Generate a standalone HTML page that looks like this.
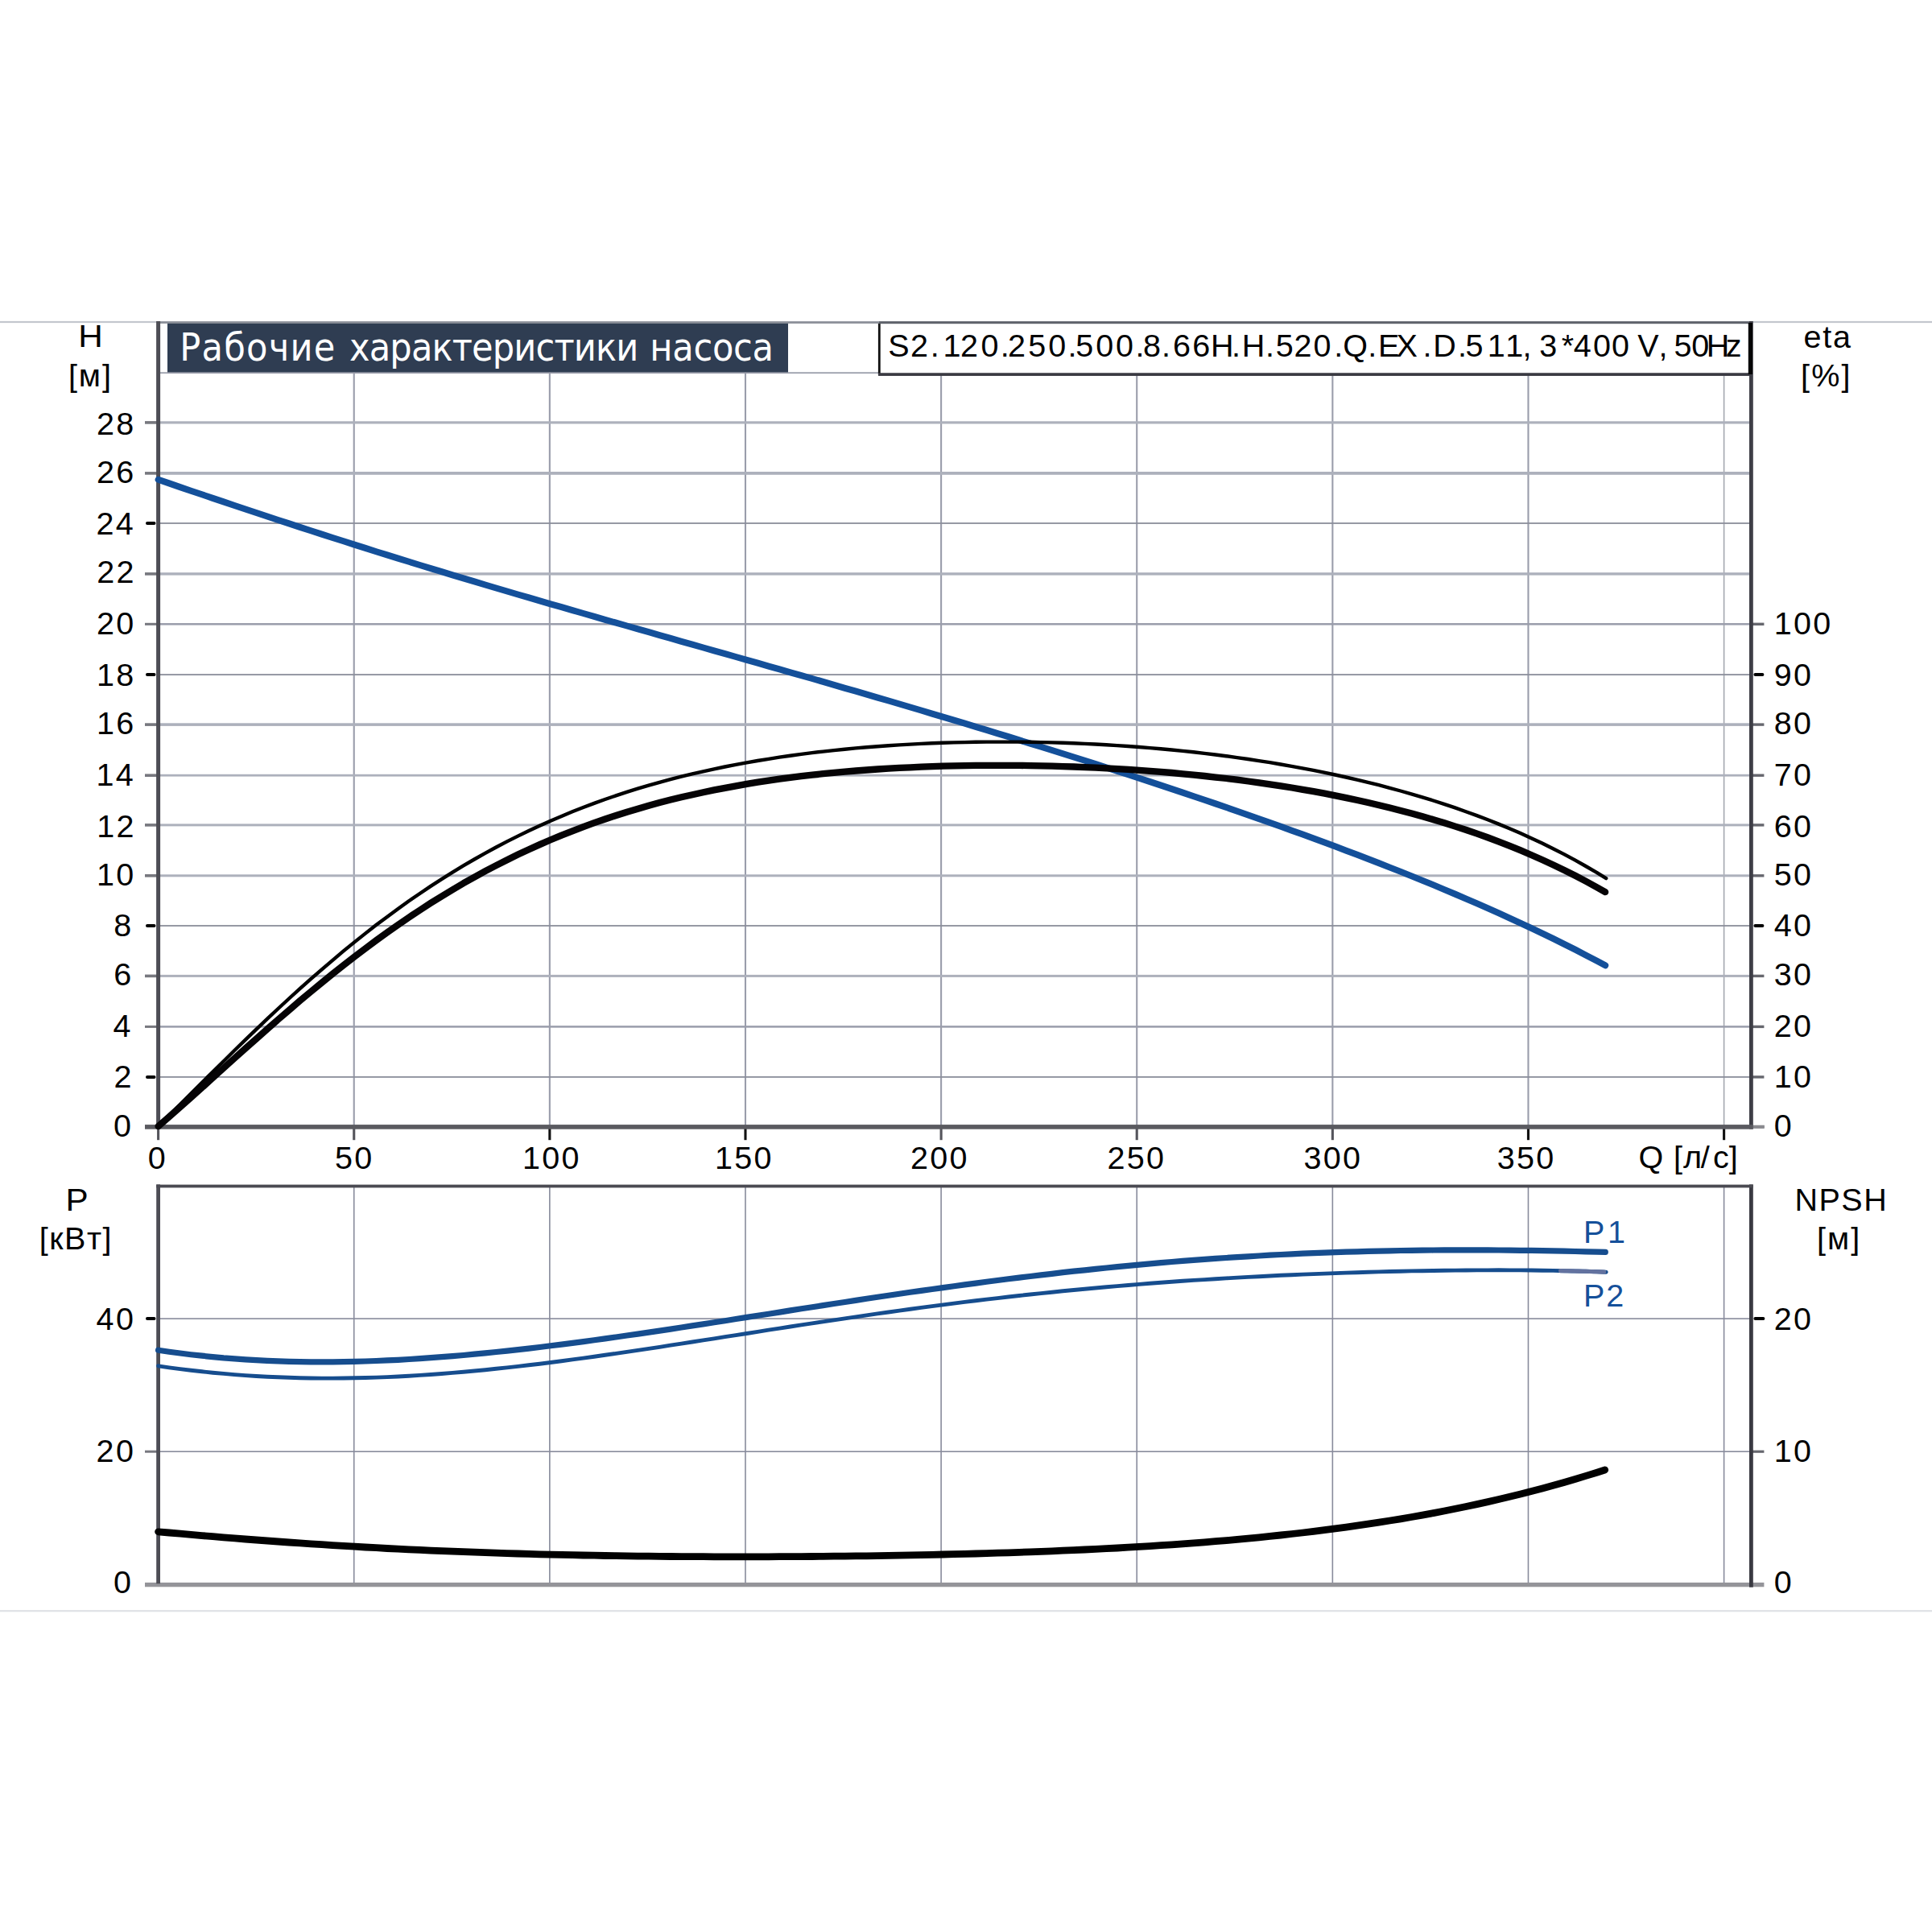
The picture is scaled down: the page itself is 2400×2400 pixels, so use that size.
<!DOCTYPE html>
<html lang="ru"><head><meta charset="utf-8"><title>Рабочие характеристики насоса</title>
<style>html,body{margin:0;padding:0;background:#fff}body{width:2400px;height:2400px;overflow:hidden}svg{display:block}text{font-family:"Liberation Sans",Arial,Helvetica,sans-serif;font-size:39.5px;font-kerning:none;fill:#000}.t{font-family:"DejaVu Sans Condensed","DejaVu Sans","Liberation Sans",sans-serif;font-stretch:condensed;font-size:48px;font-kerning:none;fill:#fff}.b{fill:#15509a}</style></head><body>
<svg width="2400" height="2400" viewBox="0 0 2400 2400">
<rect width="2400" height="2400" fill="#fff"/>
<rect x="0.0" y="398.90" width="2400.0" height="2.2" fill="#c3c6cd"/>
<rect x="0.0" y="2000.10" width="2400.0" height="2.2" fill="#dfe2e6"/>
<g>
<rect x="438.68" y="464.0" width="2.1" height="935.9" fill="#9a9dab"/>
<rect x="681.80" y="464.0" width="2.1" height="935.9" fill="#9a9dab"/>
<rect x="924.93" y="464.0" width="2.1" height="935.9" fill="#9a9dab"/>
<rect x="1168.05" y="464.0" width="2.1" height="935.9" fill="#9a9dab"/>
<rect x="1411.17" y="464.0" width="2.1" height="935.9" fill="#9a9dab"/>
<rect x="1654.30" y="464.0" width="2.1" height="935.9" fill="#9a9dab"/>
<rect x="1897.42" y="464.0" width="2.1" height="935.9" fill="#9a9dab"/>
<rect x="2140.80" y="464.0" width="1.6" height="935.9" fill="#a4a7af"/>
<rect x="196.6" y="1337.00" width="1978.8" height="1.8" fill="#8b8e9b"/>
<rect x="196.6" y="1274.15" width="1978.8" height="2.5" fill="#9a9dab"/>
<rect x="196.6" y="1210.90" width="1978.8" height="3.0" fill="#adb1bc"/>
<rect x="196.6" y="1149.10" width="1978.8" height="1.8" fill="#8b8e9b"/>
<rect x="196.6" y="1086.30" width="1978.8" height="3.0" fill="#adb1bc"/>
<rect x="196.6" y="1023.40" width="1978.8" height="3.0" fill="#adb1bc"/>
<rect x="196.6" y="961.80" width="1978.8" height="2.8" fill="#adb1bc"/>
<rect x="196.6" y="898.30" width="1978.8" height="3.6" fill="#adb1bc"/>
<rect x="196.6" y="837.20" width="1978.8" height="1.8" fill="#8b8e9b"/>
<rect x="196.6" y="774.05" width="1978.8" height="2.5" fill="#9a9dab"/>
<rect x="196.6" y="711.20" width="1978.8" height="3.4" fill="#adb1bc"/>
<rect x="196.6" y="649.10" width="1978.8" height="1.8" fill="#8b8e9b"/>
<rect x="196.6" y="586.00" width="1978.8" height="3.8" fill="#adb1bc"/>
<rect x="196.6" y="523.30" width="1978.8" height="3.2" fill="#adb1bc"/>
</g>
<g>
<rect x="438.93" y="1473.2" width="1.6" height="495.1" fill="#888b9c"/>
<rect x="682.05" y="1473.2" width="1.6" height="495.1" fill="#888b9c"/>
<rect x="925.18" y="1473.2" width="1.6" height="495.1" fill="#888b9c"/>
<rect x="1168.30" y="1473.2" width="1.6" height="495.1" fill="#888b9c"/>
<rect x="1411.42" y="1473.2" width="1.6" height="495.1" fill="#888b9c"/>
<rect x="1654.55" y="1473.2" width="1.6" height="495.1" fill="#888b9c"/>
<rect x="1897.67" y="1473.2" width="1.6" height="495.1" fill="#888b9c"/>
<rect x="2140.80" y="1473.2" width="1.6" height="495.1" fill="#888b9c"/>
<rect x="196.6" y="1802.40" width="1978.8" height="1.6" fill="#888b9c"/>
<rect x="196.6" y="1637.30" width="1978.8" height="1.6" fill="#888b9c"/>
</g>
<g>
<rect x="180.0" y="1398.40" width="16.6" height="3.0" fill="#77787f"/>
<rect x="181.0" y="1335.9" width="12.5" height="4" rx="2" fill="#000"/>
<rect x="180.0" y="1273.90" width="16.6" height="3.0" fill="#77787f"/>
<rect x="180.0" y="1210.60" width="16.6" height="3.6" fill="#77787f"/>
<rect x="181.0" y="1148.0" width="12.5" height="4" rx="2" fill="#000"/>
<rect x="180.0" y="1086.00" width="16.6" height="3.6" fill="#77787f"/>
<rect x="180.0" y="1023.10" width="16.6" height="3.6" fill="#77787f"/>
<rect x="180.0" y="961.40" width="16.6" height="3.6" fill="#77787f"/>
<rect x="180.0" y="898.30" width="16.6" height="3.6" fill="#77787f"/>
<rect x="181.0" y="836.1" width="12.5" height="4" rx="2" fill="#000"/>
<rect x="180.0" y="773.80" width="16.6" height="3.0" fill="#77787f"/>
<rect x="180.0" y="711.10" width="16.6" height="3.6" fill="#77787f"/>
<rect x="181.0" y="648.0" width="12.5" height="4" rx="2" fill="#000"/>
<rect x="180.0" y="586.10" width="16.6" height="3.6" fill="#77787f"/>
<rect x="180.0" y="523.10" width="16.6" height="3.6" fill="#77787f"/>
<rect x="2175.4" y="1398.20" width="16.0" height="3.4" fill="#66676e"/>
<rect x="2175.4" y="1336.20" width="16.0" height="3.4" fill="#66676e"/>
<rect x="2175.4" y="1273.70" width="16.0" height="3.4" fill="#66676e"/>
<rect x="2175.4" y="1210.70" width="16.0" height="3.4" fill="#66676e"/>
<rect x="2178.4" y="1148.0" width="13.0" height="4" rx="2" fill="#000"/>
<rect x="2175.4" y="1086.10" width="16.0" height="3.4" fill="#66676e"/>
<rect x="2175.4" y="1023.20" width="16.0" height="3.4" fill="#66676e"/>
<rect x="2175.4" y="961.50" width="16.0" height="3.4" fill="#66676e"/>
<rect x="2175.4" y="898.40" width="16.0" height="3.4" fill="#66676e"/>
<rect x="2178.4" y="836.1" width="13.0" height="4" rx="2" fill="#000"/>
<rect x="2175.4" y="773.60" width="16.0" height="3.4" fill="#66676e"/>
<rect x="195.05" y="1399.9" width="3.1" height="16.3" fill="#55555c"/>
<rect x="438.18" y="1399.9" width="3.1" height="16.3" fill="#55555c"/>
<rect x="681.30" y="1399.9" width="3.1" height="16.3" fill="#111"/>
<rect x="924.43" y="1399.9" width="3.1" height="16.3" fill="#111"/>
<rect x="1167.55" y="1399.9" width="3.1" height="16.3" fill="#55555c"/>
<rect x="1410.67" y="1399.9" width="3.1" height="16.3" fill="#55555c"/>
<rect x="1653.80" y="1399.9" width="3.1" height="16.3" fill="#55555c"/>
<rect x="1896.92" y="1399.9" width="3.1" height="16.3" fill="#111"/>
<rect x="2140.05" y="1399.9" width="3.1" height="16.3" fill="#111"/>
<rect x="180.0" y="1801.70" width="16.6" height="3.0" fill="#77787f"/>
<rect x="181.0" y="1636.1" width="12.5" height="4" rx="2" fill="#000"/>
<rect x="2175.4" y="1801.60" width="16.0" height="3.2" fill="#66676e"/>
<rect x="2178.4" y="1636.1" width="14.0" height="4" rx="2" fill="#000"/>
</g>
<rect x="208" y="401" width="771" height="62.8" fill="#2f3d52"/>
<rect x="199.0" y="462.30" width="894.0" height="1.8" fill="#9b9eab"/>
<rect x="1092" y="401" width="1084" height="64" fill="#fff"/>
<rect x="1090.90" y="401.0" width="2.8" height="65.0" fill="#111"/>
<rect x="1091.0" y="463.25" width="1084.4" height="3.7" fill="#3a3a42"/>
<rect x="196.6" y="399.30" width="895.4" height="2.6" fill="#8b8f98"/>
<rect x="1092.0" y="399.20" width="1083.4" height="3.0" fill="#5f636b"/>
<g>
<rect x="194.10" y="399.0" width="5.0" height="1003.5" fill="#4d4d55"/>
<rect x="2173.00" y="399.0" width="4.8" height="1003.5" fill="#3e3e46"/>
<rect x="2171.80" y="401.0" width="5.2" height="64.0" fill="#050506"/>
<rect x="180.0" y="1397.10" width="1997.8" height="5.6" fill="#5a5a60"/>
<rect x="2177.8" y="1397.70" width="14.0" height="4.0" fill="#8a8a8f"/>
<rect x="180.0" y="1965.90" width="2011.4" height="5.4" fill="#949499"/>
<rect x="194.20" y="1471.4" width="4.8" height="495.9" fill="#4d4d55"/>
<rect x="2173.00" y="1471.4" width="4.8" height="500.3" fill="#3a3a42"/>
<rect x="194.2" y="1471.60" width="1983.6" height="3.8" fill="#4a4a52"/>
</g>
<path d="M196.6,595.8 L210.1,600.4 L223.7,605.1 L237.2,609.7 L250.8,614.3 L264.3,618.9 L277.8,623.4 L291.4,628.0 L304.9,632.5 L318.5,637.0 L332.0,641.5 L345.5,646.0 L359.1,650.4 L372.6,654.9 L386.2,659.3 L399.7,663.6 L413.2,668.0 L426.8,672.3 L440.3,676.6 L453.9,680.9 L467.4,685.2 L480.9,689.4 L494.5,693.6 L508.0,697.8 L521.6,702.0 L535.1,706.1 L548.6,710.2 L562.2,714.3 L575.7,718.4 L589.3,722.4 L602.8,726.5 L616.3,730.5 L629.9,734.5 L643.4,738.5 L657.0,742.4 L670.5,746.4 L684.0,750.3 L697.6,754.2 L711.1,758.1 L724.7,762.0 L738.2,765.9 L751.7,769.8 L765.3,773.7 L778.8,777.5 L792.4,781.4 L805.9,785.2 L819.4,789.1 L833.0,792.9 L846.5,796.8 L860.1,800.6 L873.6,804.5 L887.1,808.3 L900.7,812.1 L914.2,816.0 L927.8,819.8 L941.3,823.7 L954.8,827.6 L968.4,831.4 L981.9,835.3 L995.5,839.2 L1009.0,843.0 L1022.5,846.9 L1036.1,850.8 L1049.6,854.8 L1063.2,858.7 L1076.7,862.6 L1090.2,866.6 L1103.8,870.5 L1117.3,874.5 L1130.8,878.5 L1144.4,882.5 L1157.9,886.6 L1171.5,890.6 L1185.0,894.7 L1198.5,898.7 L1212.1,902.8 L1225.6,906.9 L1239.2,911.1 L1252.7,915.2 L1266.2,919.4 L1279.8,923.6 L1293.3,927.8 L1306.9,932.0 L1320.4,936.3 L1333.9,940.5 L1347.5,944.8 L1361.0,949.1 L1374.6,953.5 L1388.1,957.9 L1401.6,962.3 L1415.2,966.7 L1428.7,971.1 L1442.3,975.6 L1455.8,980.1 L1469.3,984.6 L1482.9,989.2 L1496.4,993.8 L1510.0,998.4 L1523.5,1003.0 L1537.0,1007.7 L1550.6,1012.5 L1564.1,1017.2 L1577.7,1022.0 L1591.2,1026.8 L1604.7,1031.7 L1618.3,1036.6 L1631.8,1041.6 L1645.4,1046.6 L1658.9,1051.6 L1672.4,1056.7 L1686.0,1061.8 L1699.5,1067.0 L1713.1,1072.3 L1726.6,1077.6 L1740.1,1082.9 L1753.7,1088.4 L1767.2,1093.9 L1780.8,1099.4 L1794.3,1105.1 L1807.8,1110.8 L1821.4,1116.6 L1834.9,1122.4 L1848.5,1128.4 L1862.0,1134.4 L1875.5,1140.6 L1889.1,1146.8 L1902.6,1153.2 L1916.2,1159.6 L1929.7,1166.2 L1943.2,1172.9 L1956.8,1179.7 L1970.3,1186.7 L1983.9,1193.8 L1994.2,1199.3" fill="none" stroke="#14509a" stroke-width="8.0" stroke-linecap="round" stroke-linejoin="round"/>
<path d="M196.6,1398.8 L210.1,1385.4 L223.7,1372.0 L237.2,1358.5 L250.7,1345.0 L264.3,1331.5 L277.8,1318.2 L291.4,1304.8 L304.9,1291.7 L318.4,1278.6 L332.0,1265.7 L345.5,1253.0 L359.0,1240.5 L372.6,1228.2 L386.1,1216.2 L399.7,1204.3 L413.2,1192.8 L426.7,1181.4 L440.3,1170.4 L453.8,1159.6 L467.3,1149.1 L480.9,1138.9 L494.4,1129.0 L507.9,1119.3 L521.5,1110.0 L535.0,1100.9 L548.6,1092.1 L562.1,1083.6 L575.6,1075.4 L589.2,1067.5 L602.7,1059.9 L616.2,1052.5 L629.8,1045.4 L643.3,1038.6 L656.9,1032.0 L670.4,1025.7 L683.9,1019.7 L697.5,1013.9 L711.0,1008.3 L724.5,1003.0 L738.1,997.9 L751.6,993.0 L765.1,988.4 L778.7,983.9 L792.2,979.7 L805.8,975.7 L819.3,971.8 L832.8,968.2 L846.4,964.7 L859.9,961.4 L873.4,958.3 L887.0,955.3 L900.5,952.5 L914.1,949.8 L927.6,947.3 L941.1,945.0 L954.7,942.8 L968.2,940.7 L981.7,938.7 L995.3,936.9 L1008.8,935.1 L1022.3,933.6 L1035.9,932.1 L1049.4,930.7 L1063.0,929.4 L1076.5,928.3 L1090.0,927.2 L1103.6,926.2 L1117.1,925.4 L1130.6,924.6 L1144.2,923.9 L1157.7,923.3 L1171.3,922.8 L1184.8,922.4 L1198.3,922.1 L1211.9,921.8 L1225.4,921.6 L1238.9,921.6 L1252.5,921.6 L1266.0,921.6 L1279.5,921.8 L1293.1,922.1 L1306.6,922.4 L1320.2,922.8 L1333.7,923.3 L1347.2,923.9 L1360.8,924.5 L1374.3,925.3 L1387.8,926.1 L1401.4,927.0 L1414.9,928.0 L1428.5,929.1 L1442.0,930.3 L1455.5,931.5 L1469.1,932.9 L1482.6,934.3 L1496.1,935.9 L1509.7,937.5 L1523.2,939.2 L1536.7,941.1 L1550.3,943.0 L1563.8,945.1 L1577.4,947.2 L1590.9,949.5 L1604.4,951.8 L1618.0,954.3 L1631.5,956.9 L1645.0,959.7 L1658.6,962.5 L1672.1,965.5 L1685.7,968.6 L1699.2,971.9 L1712.7,975.2 L1726.3,978.8 L1739.8,982.5 L1753.3,986.3 L1766.9,990.3 L1780.4,994.5 L1793.9,998.9 L1807.5,1003.4 L1821.0,1008.2 L1834.6,1013.1 L1848.1,1018.3 L1861.6,1023.6 L1875.2,1029.2 L1888.7,1035.1 L1902.2,1041.2 L1915.8,1047.5 L1929.3,1054.2 L1942.9,1061.1 L1956.4,1068.4 L1969.9,1076.0 L1983.5,1083.9 L1995.2,1091.2" fill="none" stroke="#000" stroke-width="4.4" stroke-linecap="round" stroke-linejoin="round"/>
<path d="M196.6,1399.1 L210.1,1387.3 L223.7,1375.4 L237.2,1363.3 L250.8,1351.2 L264.3,1339.0 L277.8,1326.7 L291.4,1314.5 L304.9,1302.4 L318.5,1290.3 L332.0,1278.3 L345.5,1266.5 L359.1,1254.8 L372.6,1243.2 L386.2,1231.9 L399.7,1220.7 L413.2,1209.7 L426.8,1199.0 L440.3,1188.5 L453.9,1178.2 L467.4,1168.1 L480.9,1158.4 L494.5,1148.8 L508.0,1139.6 L521.6,1130.6 L535.1,1121.8 L548.6,1113.4 L562.2,1105.2 L575.7,1097.2 L589.3,1089.6 L602.8,1082.2 L616.3,1075.1 L629.9,1068.2 L643.4,1061.6 L657.0,1055.2 L670.5,1049.1 L684.0,1043.3 L697.6,1037.6 L711.1,1032.3 L724.7,1027.1 L738.2,1022.2 L751.7,1017.5 L765.3,1013.0 L778.8,1008.7 L792.4,1004.7 L805.9,1000.8 L819.4,997.1 L833.0,993.6 L846.5,990.3 L860.1,987.2 L873.6,984.2 L887.1,981.4 L900.7,978.8 L914.2,976.3 L927.8,973.9 L941.3,971.7 L954.8,969.7 L968.4,967.7 L981.9,965.9 L995.5,964.2 L1009.0,962.7 L1022.5,961.2 L1036.1,959.9 L1049.6,958.6 L1063.2,957.5 L1076.7,956.5 L1090.2,955.5 L1103.8,954.7 L1117.3,953.9 L1130.8,953.3 L1144.4,952.7 L1157.9,952.2 L1171.5,951.7 L1185.0,951.4 L1198.5,951.1 L1212.1,950.9 L1225.6,950.8 L1239.2,950.8 L1252.7,950.8 L1266.2,950.9 L1279.8,951.1 L1293.3,951.4 L1306.9,951.7 L1320.4,952.1 L1333.9,952.5 L1347.5,953.1 L1361.0,953.7 L1374.6,954.3 L1388.1,955.1 L1401.6,955.9 L1415.2,956.8 L1428.7,957.8 L1442.3,958.9 L1455.8,960.0 L1469.3,961.3 L1482.9,962.6 L1496.4,964.0 L1510.0,965.5 L1523.5,967.0 L1537.0,968.7 L1550.6,970.5 L1564.1,972.3 L1577.7,974.3 L1591.2,976.3 L1604.7,978.5 L1618.3,980.8 L1631.8,983.2 L1645.4,985.7 L1658.9,988.3 L1672.4,991.1 L1686.0,994.0 L1699.5,997.0 L1713.1,1000.2 L1726.6,1003.5 L1740.1,1006.9 L1753.7,1010.5 L1767.2,1014.3 L1780.8,1018.2 L1794.3,1022.3 L1807.8,1026.6 L1821.4,1031.0 L1834.9,1035.7 L1848.5,1040.5 L1862.0,1045.6 L1875.5,1050.9 L1889.1,1056.4 L1902.6,1062.2 L1916.2,1068.2 L1929.7,1074.4 L1943.2,1080.9 L1956.8,1087.8 L1970.3,1094.9 L1983.9,1102.3 L1994.1,1108.1" fill="none" stroke="#050305" stroke-width="8.3" stroke-linecap="round" stroke-linejoin="round"/>
<path d="M196.6,1677.2 L210.1,1679.2 L223.7,1681.0 L237.2,1682.7 L250.8,1684.2 L264.3,1685.6 L277.8,1686.9 L291.4,1687.9 L304.9,1688.9 L318.4,1689.7 L332.0,1690.4 L345.5,1690.9 L359.1,1691.3 L372.6,1691.6 L386.1,1691.8 L399.7,1691.9 L413.2,1691.8 L426.8,1691.6 L440.3,1691.4 L453.8,1691.0 L467.4,1690.5 L480.9,1689.9 L494.4,1689.3 L508.0,1688.5 L521.5,1687.7 L535.1,1686.7 L548.6,1685.7 L562.1,1684.6 L575.7,1683.5 L589.2,1682.2 L602.8,1680.9 L616.3,1679.5 L629.8,1678.1 L643.4,1676.6 L656.9,1675.1 L670.4,1673.5 L684.0,1671.8 L697.5,1670.1 L711.1,1668.4 L724.6,1666.6 L738.1,1664.7 L751.7,1662.9 L765.2,1661.0 L778.7,1659.0 L792.3,1657.1 L805.8,1655.1 L819.4,1653.1 L832.9,1651.1 L846.4,1649.0 L860.0,1646.9 L873.5,1644.9 L887.1,1642.8 L900.6,1640.7 L914.1,1638.5 L927.7,1636.4 L941.2,1634.3 L954.7,1632.2 L968.3,1630.1 L981.8,1627.9 L995.4,1625.8 L1008.9,1623.7 L1022.4,1621.6 L1036.0,1619.5 L1049.5,1617.5 L1063.1,1615.4 L1076.6,1613.3 L1090.1,1611.3 L1103.7,1609.3 L1117.2,1607.3 L1130.7,1605.3 L1144.3,1603.4 L1157.8,1601.5 L1171.4,1599.6 L1184.9,1597.7 L1198.4,1595.9 L1212.0,1594.1 L1225.5,1592.3 L1239.1,1590.5 L1252.6,1588.8 L1266.1,1587.1 L1279.7,1585.5 L1293.2,1583.9 L1306.7,1582.3 L1320.3,1580.7 L1333.8,1579.2 L1347.4,1577.8 L1360.9,1576.4 L1374.4,1575.0 L1388.0,1573.6 L1401.5,1572.3 L1415.1,1571.1 L1428.6,1569.8 L1442.1,1568.7 L1455.7,1567.5 L1469.2,1566.4 L1482.7,1565.4 L1496.3,1564.4 L1509.8,1563.4 L1523.4,1562.5 L1536.9,1561.6 L1550.4,1560.8 L1564.0,1560.0 L1577.5,1559.2 L1591.0,1558.5 L1604.6,1557.9 L1618.1,1557.2 L1631.7,1556.7 L1645.2,1556.1 L1658.7,1555.6 L1672.3,1555.2 L1685.8,1554.8 L1699.4,1554.4 L1712.9,1554.1 L1726.4,1553.8 L1740.0,1553.5 L1753.5,1553.3 L1767.0,1553.2 L1780.6,1553.0 L1794.1,1552.9 L1807.7,1552.9 L1821.2,1552.8 L1834.7,1552.9 L1848.3,1552.9 L1861.8,1553.0 L1875.4,1553.1 L1888.9,1553.3 L1902.4,1553.4 L1916.0,1553.6 L1929.5,1553.9 L1943.0,1554.2 L1956.6,1554.5 L1970.1,1554.8 L1983.7,1555.1 L1994.3,1555.4" fill="none" stroke="#164d8e" stroke-width="7.2" stroke-linecap="round" stroke-linejoin="round"/>
<path d="M196.6,1696.8 L210.1,1698.8 L223.7,1700.6 L237.2,1702.2 L250.8,1703.8 L264.3,1705.2 L277.8,1706.4 L291.4,1707.6 L304.9,1708.6 L318.4,1709.5 L332.0,1710.2 L345.5,1710.8 L359.1,1711.3 L372.6,1711.7 L386.1,1712.0 L399.7,1712.1 L413.2,1712.1 L426.8,1712.0 L440.3,1711.8 L453.8,1711.5 L467.4,1711.1 L480.9,1710.6 L494.4,1710.0 L508.0,1709.2 L521.5,1708.4 L535.1,1707.5 L548.6,1706.5 L562.1,1705.4 L575.7,1704.3 L589.2,1703.0 L602.8,1701.7 L616.3,1700.3 L629.8,1698.9 L643.4,1697.4 L656.9,1695.8 L670.4,1694.2 L684.0,1692.5 L697.5,1690.7 L711.1,1688.9 L724.6,1687.1 L738.1,1685.2 L751.7,1683.3 L765.2,1681.4 L778.7,1679.4 L792.3,1677.4 L805.8,1675.4 L819.4,1673.3 L832.9,1671.2 L846.4,1669.1 L860.0,1667.0 L873.5,1664.9 L887.1,1662.8 L900.6,1660.7 L914.1,1658.6 L927.7,1656.5 L941.2,1654.3 L954.7,1652.2 L968.3,1650.1 L981.8,1648.0 L995.4,1645.9 L1008.9,1643.9 L1022.4,1641.8 L1036.0,1639.8 L1049.5,1637.8 L1063.1,1635.8 L1076.6,1633.8 L1090.1,1631.9 L1103.7,1630.0 L1117.2,1628.1 L1130.7,1626.2 L1144.3,1624.4 L1157.8,1622.6 L1171.4,1620.9 L1184.9,1619.1 L1198.4,1617.4 L1212.0,1615.8 L1225.5,1614.1 L1239.1,1612.6 L1252.6,1611.0 L1266.1,1609.5 L1279.7,1608.0 L1293.2,1606.6 L1306.7,1605.2 L1320.3,1603.8 L1333.8,1602.5 L1347.4,1601.2 L1360.9,1600.0 L1374.4,1598.8 L1388.0,1597.6 L1401.5,1596.5 L1415.1,1595.4 L1428.6,1594.3 L1442.1,1593.3 L1455.7,1592.3 L1469.2,1591.3 L1482.7,1590.4 L1496.3,1589.6 L1509.8,1588.7 L1523.4,1587.9 L1536.9,1587.1 L1550.4,1586.4 L1564.0,1585.7 L1577.5,1585.0 L1591.0,1584.3 L1604.6,1583.7 L1618.1,1583.1 L1631.7,1582.6 L1645.2,1582.1 L1658.7,1581.6 L1672.3,1581.1 L1685.8,1580.7 L1699.4,1580.3 L1712.9,1579.9 L1726.4,1579.5 L1740.0,1579.2 L1753.5,1578.9 L1767.0,1578.7 L1780.6,1578.5 L1794.1,1578.3 L1807.7,1578.1 L1821.2,1578.0 L1834.7,1577.9 L1848.3,1577.9 L1861.8,1577.8 L1875.4,1577.9 L1888.9,1577.9 L1902.4,1578.0 L1916.0,1578.2 L1929.5,1578.4 L1943.0,1578.7 L1956.6,1579.0 L1970.1,1579.3 L1983.7,1579.8 L1995.2,1580.2" fill="none" stroke="#164d8e" stroke-width="4.9" stroke-linecap="round" stroke-linejoin="round"/>
<path d="M196.6,1902.8 L210.1,1904.0 L223.7,1905.2 L237.2,1906.4 L250.8,1907.6 L264.3,1908.7 L277.8,1909.8 L291.4,1910.9 L304.9,1912.0 L318.4,1913.0 L332.0,1914.0 L345.5,1915.0 L359.1,1916.0 L372.6,1916.9 L386.1,1917.9 L399.7,1918.7 L413.2,1919.6 L426.8,1920.4 L440.3,1921.2 L453.8,1922.0 L467.4,1922.7 L480.9,1923.5 L494.4,1924.1 L508.0,1924.8 L521.5,1925.4 L535.1,1926.1 L548.6,1926.6 L562.1,1927.2 L575.7,1927.7 L589.2,1928.2 L602.8,1928.7 L616.3,1929.2 L629.8,1929.6 L643.4,1930.0 L656.9,1930.4 L670.4,1930.8 L684.0,1931.1 L697.5,1931.4 L711.1,1931.7 L724.6,1932.0 L738.1,1932.2 L751.7,1932.5 L765.2,1932.7 L778.7,1932.9 L792.3,1933.1 L805.8,1933.2 L819.4,1933.3 L832.9,1933.5 L846.4,1933.6 L860.0,1933.6 L873.5,1933.7 L887.1,1933.8 L900.6,1933.8 L914.1,1933.8 L927.7,1933.8 L941.2,1933.8 L954.7,1933.8 L968.3,1933.7 L981.8,1933.7 L995.4,1933.6 L1008.9,1933.5 L1022.4,1933.4 L1036.0,1933.2 L1049.5,1933.1 L1063.1,1932.9 L1076.6,1932.8 L1090.1,1932.6 L1103.7,1932.3 L1117.2,1932.1 L1130.7,1931.9 L1144.3,1931.6 L1157.8,1931.3 L1171.4,1931.0 L1184.9,1930.7 L1198.4,1930.4 L1212.0,1930.0 L1225.5,1929.6 L1239.1,1929.2 L1252.6,1928.8 L1266.1,1928.3 L1279.7,1927.8 L1293.2,1927.3 L1306.7,1926.8 L1320.3,1926.2 L1333.8,1925.6 L1347.4,1925.0 L1360.9,1924.4 L1374.4,1923.7 L1388.0,1923.0 L1401.5,1922.2 L1415.1,1921.4 L1428.6,1920.6 L1442.1,1919.7 L1455.7,1918.8 L1469.2,1917.8 L1482.7,1916.8 L1496.3,1915.8 L1509.8,1914.7 L1523.4,1913.6 L1536.9,1912.4 L1550.4,1911.1 L1564.0,1909.8 L1577.5,1908.4 L1591.0,1907.0 L1604.6,1905.5 L1618.1,1904.0 L1631.7,1902.4 L1645.2,1900.7 L1658.7,1898.9 L1672.3,1897.1 L1685.8,1895.2 L1699.4,1893.2 L1712.9,1891.2 L1726.4,1889.0 L1740.0,1886.8 L1753.5,1884.5 L1767.0,1882.1 L1780.6,1879.6 L1794.1,1877.0 L1807.7,1874.3 L1821.2,1871.5 L1834.7,1868.6 L1848.3,1865.6 L1861.8,1862.5 L1875.4,1859.3 L1888.9,1856.0 L1902.4,1852.5 L1916.0,1848.9 L1929.5,1845.3 L1943.0,1841.4 L1956.6,1837.5 L1970.1,1833.4 L1983.7,1829.2 L1993.7,1826.0" fill="none" stroke="#000" stroke-width="8.8" stroke-linecap="round" stroke-linejoin="round"/>
<path d="M1938.5,1578.6 L1943.0,1578.7 L1947.6,1578.8 L1952.1,1578.9 L1956.6,1579.0 L1961.1,1579.1 L1965.6,1579.2 L1970.1,1579.3 L1974.6,1579.5 L1979.1,1579.6 L1983.7,1579.8 L1988.2,1579.9 L1992.7,1580.1" fill="none" stroke="#63729f" stroke-width="5.1" stroke-linecap="round"/>
<text class="t" y="447.6"><tspan x="223.36" letter-spacing="1.21">Рабочие</tspan> <tspan x="434.06" letter-spacing="-0.85">характеристики</tspan> <tspan x="807.29" letter-spacing="-0.27">насоса</tspan></text>
<text x="1103.2 1130.9 1155.7 1171.5 1193.0 1218.4 1242.7 1252.0 1277.3 1302.2 1326.5 1336.3 1361.2 1386.1 1410.4 1420.0 1442.9 1457.0 1481.2 1503.9 1529.9 1542.8 1571.9 1584.7 1607.6 1631.4 1657.3 1668.3 1699.2 1712.0 1734.5 1767.5 1780.3 1811.0 1820.4 1847.8 1870.3 1891.5 1903.0 1912.2 1939.8 1954.7 1978.9 2001.9 2024.0 2034.3 2060.5 2072.0 2079.5 2101.3 2119.8 2143.8" y="443.3">S2.120.250.500.8.66H.H.520.Q.EX.D.511, 3*400 V, 50Hz</text>
<text transform="translate(97.13 431.2) scale(1.070 1)">H</text>
<text x="84.88" y="479.8" letter-spacing="1.96">[м]</text>
<text x="2240.62" y="431.6" letter-spacing="1.73">eta</text>
<text x="2237.08" y="479.6" letter-spacing="2.13">[%]</text>
<text transform="translate(81.53 1503.6) scale(1.070 1)">P</text>
<text x="48.78" y="1551.6" letter-spacing="1.52">[кВт]</text>
<text x="2229.56" y="1503.8" letter-spacing="1.47">NPSH</text>
<text x="2256.88" y="1551.6" letter-spacing="2.06">[м]</text>
<text x="2035.4 2070.0 2079.0 2091.1 2112.8 2127.9 2147.7" y="1451.2">Q [л/с]</text>
<text x="140.97" y="1411.6" letter-spacing="2.30">0</text>
<text x="141.42" y="1351.4" letter-spacing="2.30">2</text>
<text x="140.59" y="1287.7" letter-spacing="2.30">4</text>
<text x="141.17" y="1223.6" letter-spacing="2.30">6</text>
<text x="141.15" y="1163.4" letter-spacing="2.30">8</text>
<text x="119.91" y="1100.4" letter-spacing="2.30">10</text>
<text x="120.35" y="1039.9" letter-spacing="2.30">12</text>
<text x="119.52" y="975.7" letter-spacing="2.30">14</text>
<text x="120.10" y="912.0" letter-spacing="2.30">16</text>
<text x="120.08" y="852.0" letter-spacing="2.30">18</text>
<text x="119.91" y="788.0" letter-spacing="2.30">20</text>
<text x="120.35" y="723.8" letter-spacing="2.30">22</text>
<text x="119.52" y="663.7" letter-spacing="2.30">24</text>
<text x="120.10" y="600.3" letter-spacing="2.30">26</text>
<text x="120.08" y="540.1" letter-spacing="2.30">28</text>
<text x="2203.8" y="1411.6" letter-spacing="2.3">0</text>
<text x="2203.8" y="1351.4" letter-spacing="2.3">10</text>
<text x="2203.8" y="1287.7" letter-spacing="2.3">20</text>
<text x="2203.8" y="1223.6" letter-spacing="2.3">30</text>
<text x="2203.8" y="1163.4" letter-spacing="2.3">40</text>
<text x="2203.8" y="1100.4" letter-spacing="2.3">50</text>
<text x="2203.8" y="1039.9" letter-spacing="2.3">60</text>
<text x="2203.8" y="975.7" letter-spacing="2.3">70</text>
<text x="2203.8" y="912.0" letter-spacing="2.3">80</text>
<text x="2203.8" y="852.0" letter-spacing="2.3">90</text>
<text x="2203.8" y="788.0" letter-spacing="2.3">100</text>
<text x="183.82" y="1452.2" letter-spacing="2.30">0</text>
<text x="415.96" y="1452.2" letter-spacing="2.30">50</text>
<text x="648.92" y="1452.2" letter-spacing="2.30">100</text>
<text x="887.92" y="1452.2" letter-spacing="2.30">150</text>
<text x="1131.03" y="1452.2" letter-spacing="2.30">200</text>
<text x="1375.53" y="1452.2" letter-spacing="2.30">250</text>
<text x="1619.47" y="1452.2" letter-spacing="2.30">300</text>
<text x="1859.77" y="1452.2" letter-spacing="2.30">350</text>
<text x="140.97" y="1979.4" letter-spacing="2.30">0</text>
<text x="119.61" y="1816.2" letter-spacing="2.30">20</text>
<text x="119.61" y="1651.7" letter-spacing="2.30">40</text>
<text x="2203.8" y="1979.4" letter-spacing="2.3">0</text>
<text x="2203.8" y="1816.2" letter-spacing="2.3">10</text>
<text x="2203.8" y="1651.7" letter-spacing="2.3">20</text>
<text x="1967.1 1997.1" y="1543.6" class="b">P1</text>
<text x="1967.1 1995.2" y="1623.2" class="b">P2</text>
</svg></body></html>
